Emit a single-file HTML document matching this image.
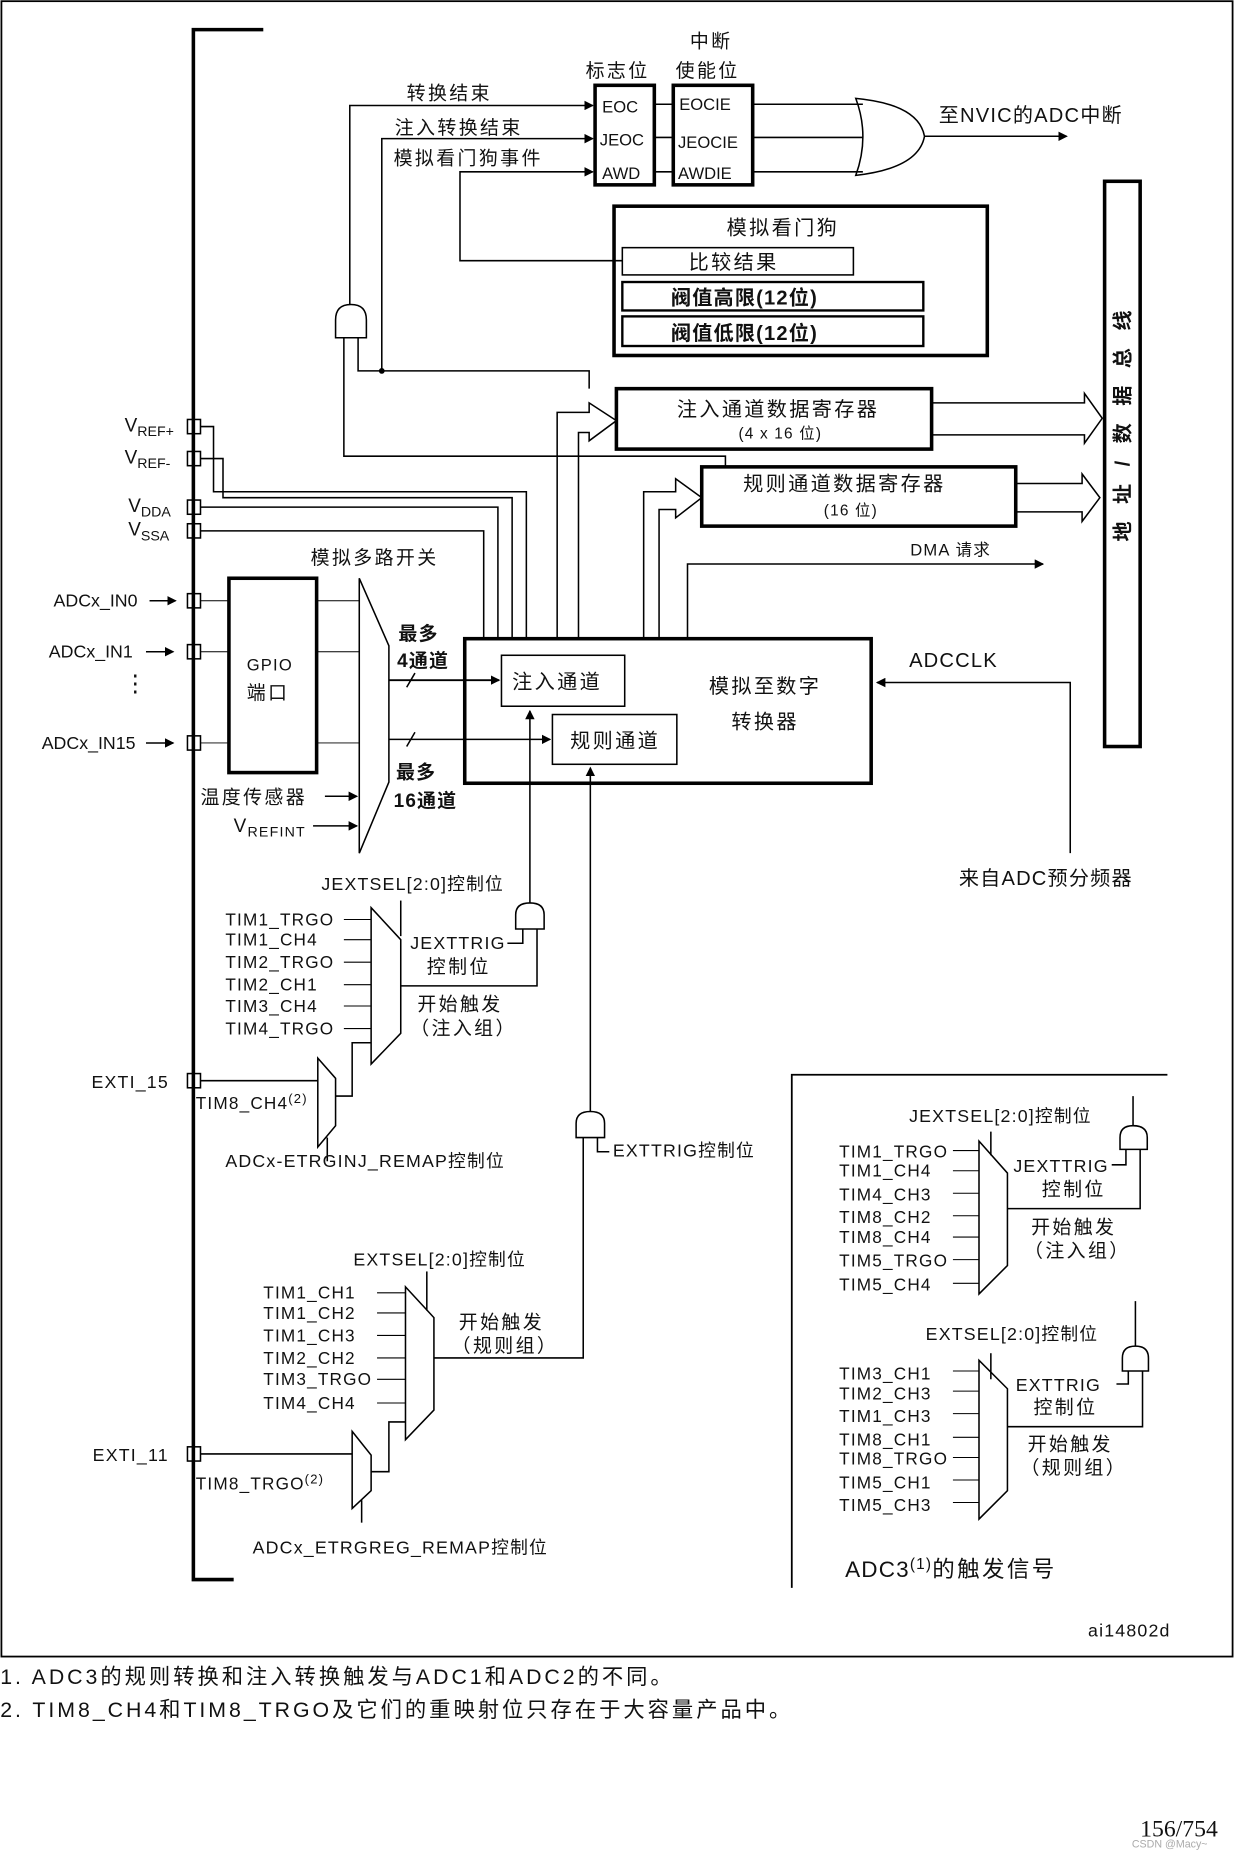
<!DOCTYPE html>
<html><head><meta charset="utf-8"><style>
html,body{margin:0;padding:0;background:#fff;}
svg{display:block}
text{font-family:"Liberation Sans","Noto Sans CJK SC",sans-serif;fill:#111;letter-spacing:1px;}
.c{letter-spacing:2px}
</style></head><body>
<svg width="1234" height="1858" viewBox="0 0 1041 1568" xmlns="http://www.w3.org/2000/svg">
<defs>
<marker id="a" markerWidth="8" markerHeight="8" refX="7" refY="4" orient="auto" markerUnits="userSpaceOnUse"><path d="M0,0 L8,4 L0,8z" fill="#000"/></marker>
</defs>
<g fill="none" stroke="#000" stroke-width="1.3">
<rect x="1" y="1" width="1039" height="1397" stroke-width="1.5"/>
<path d="M222,25 H163 V1333 H197" stroke-width="3"/>
<rect x="502" y="72" width="50" height="84" stroke-width="3"/>
<rect x="568" y="72" width="67" height="84" stroke-width="3"/>
<path d="M552,88 H568 M552,116 H568 M552,145 H568"/>
<path d="M635,88 H728 M635,116 H728 M635,145 H728"/>
<path d="M722,83 Q775,88 780,115 Q775,142 722,148 Q734,115 722,83z"/>
<path d="M780,115 H900" marker-end="url(#a)"/>
<path d="M295,257 V89 H500" marker-end="url(#a)"/>
<path d="M322,313 V117 H500" marker-end="url(#a)"/>
<path d="M525,220 H388 V145 H500" marker-end="url(#a)"/>
<rect x="518" y="174" width="315" height="126" stroke-width="3"/>
<rect x="525" y="209" width="195" height="23"/>
<rect x="525" y="238" width="254" height="24" stroke-width="2"/>
<rect x="525" y="267" width="254" height="25" stroke-width="2"/>
<path d="M283,285 V270 Q283,257 296,257 Q309,257 309,270 V285z"/>
<path d="M290,285 V385 H612 V394"/>
<path d="M302,285 V313 H497 V328"/>
<circle cx="322" cy="313" r="1.8" fill="#000"/>
<rect x="520" y="328" width="266" height="51" stroke-width="3"/>
<path d="M470,540 V348 H497 V340 L520,355 L497,372 V365 H488 V540"/>
<path d="M786,340 H915 V332 L930,353 L915,374 V367 H786"/>
<rect x="592" y="394" width="265" height="50" stroke-width="3"/>
<path d="M543,540 V415 H570 V404 L592,420 L570,437 V430 H556 V540"/>
<path d="M857,408 H913 V400 L928,420 L913,440 V432 H857"/>
<rect x="932" y="153" width="30" height="477" stroke-width="3"/>
<path d="M580,540 V476 H880" marker-end="url(#a)"/>
<rect x="392" y="539" width="343" height="122" stroke-width="3"/>
<rect x="423" y="553" width="104" height="43"/>
<rect x="466" y="603" width="105" height="42"/>
<path d="M903,720 V576 H740" marker-end="url(#a)"/>
<rect x="158" y="354" width="11" height="12"/>
<rect x="158" y="381" width="11" height="12"/>
<rect x="158" y="422" width="11" height="12"/>
<rect x="158" y="442" width="11" height="12"/>
<rect x="158" y="501" width="11" height="12"/>
<rect x="158" y="544" width="11" height="12"/>
<rect x="158" y="621" width="11" height="12"/>
<rect x="158" y="906" width="11" height="12"/>
<rect x="158" y="1221" width="11" height="12"/>
<path d="M169,360 H180 V415 H444 V539"/>
<path d="M169,387 H188 V420 H432 V539"/>
<path d="M169,428 H420 V539"/>
<path d="M169,448 H408 V539"/>
<path d="M126,507 H148" marker-end="url(#a)"/>
<path d="M123,550 H146" marker-end="url(#a)"/>
<path d="M123,627 H146" marker-end="url(#a)"/>
<rect x="193" y="488" width="74" height="164" stroke-width="3"/>
<path d="M169,507 H193 M169,550 H193 M169,627 H193 M267,507 H303 M267,550 H303 M267,627 H303" stroke-width="0.8"/>
<path d="M303,488 L328,545 V660 L303,720z"/>
<path d="M274,672 H301" marker-end="url(#a)"/>
<path d="M264,697 H301" marker-end="url(#a)"/>
<path d="M328,574 H421" marker-end="url(#a)" stroke-width="1.6"/>
<path d="M328,624 H464" marker-end="url(#a)"/>
<path d="M343,580 L350,568 M343,630 L350,618"/>
<path d="M447,762 V600" marker-end="url(#a)"/>
<path d="M498,938 V648" marker-end="url(#a)"/>
<path d="M435,784 V772 Q435,762 447,762 Q459,762 459,772 V784z"/>
<path d="M441,784 V796 H428 M453,784 V832 H338"/>
<path d="M338,760 V790"/>
<path d="M313,766 L338,793 V872 L313,898z"/>
<path d="M290,776 H313 M290,793 H313 M290,812 H313 M290,831 H313 M290,849 H313 M290,868 H313" stroke-width="0.9"/>
<path d="M169,912 H268"/>
<path d="M268,893 L283,910 V950 L268,968z"/>
<path d="M283,925 H297 V880 H313"/>
<path d="M276,960 V980"/>
<path d="M486,960 V948 Q486,938 498,938 Q510,938 510,948 V960z"/>
<path d="M504,960 V972 H514 M492,960 V1146 H366"/>
<path d="M342,1086 L366,1112 V1190 L342,1215z"/>
<path d="M360,1073 V1106"/>
<path d="M318,1091 H342 M318,1108 H342 M318,1127 H342 M318,1146 H342 M318,1164 H342 M318,1184 H342" stroke-width="0.9"/>
<path d="M169,1227 H297"/>
<path d="M297,1208 L313,1228 V1258 L297,1273z"/>
<path d="M313,1242 H328 V1200 H342"/>
<path d="M305,1266 V1285"/>
<path d="M985,907 H668 V1340" stroke-width="1.5"/>
<path d="M826,963 L850,990 V1068 L826,1092z"/>
<path d="M836,955 V975"/>
<path d="M804,971 H826 M804,988 H826 M804,1007 H826 M804,1026 H826 M804,1044 H826 M804,1063 H826 M804,1083 H826" stroke-width="0.9"/>
<path d="M945,970 V960 Q945,950 956,950 Q968,950 968,960 V970z"/>
<path d="M956,950 V925 M950,970 V983 H938 M962,970 V1020 H850"/>
<path d="M826,1148 L850,1172 V1258 L826,1282z"/>
<path d="M836,1142 V1164"/>
<path d="M804,1157 H826 M804,1174 H826 M804,1193 H826 M804,1213 H826 M804,1230 H826 M804,1249 H826 M804,1268 H826" stroke-width="0.9"/>
<path d="M947,1157 V1146 Q947,1136 958,1136 Q969,1136 969,1146 V1157z"/>
<path d="M958,1136 V1098 M952,1157 V1168 H942 M964,1157 V1204 H850"/>
</g>
<g font-size="16">
<text class="c" x="582" y="40">中断</text>
<text class="c" x="494" y="65">标志位</text>
<text class="c" x="570" y="65">使能位</text>
<text class="c" x="343" y="84">转换结束</text>
<text class="c" x="333" y="113">注入转换结束</text>
<text class="c" x="332" y="139">模拟看门狗事件</text>
<text x="508" y="95" font-size="14" style="letter-spacing:0">EOC</text>
<text x="506" y="123" font-size="14" style="letter-spacing:0">JEOC</text>
<text x="508" y="151" font-size="14" style="letter-spacing:0">AWD</text>
<text x="573" y="93" font-size="14" style="letter-spacing:0">EOCIE</text>
<text x="572" y="125" font-size="14" style="letter-spacing:0">JEOCIE</text>
<text x="572" y="151" font-size="14" style="letter-spacing:0">AWDIE</text>
<text x="792" y="103" font-size="17">至NVIC的ADC中断</text>
<text class="c" x="613" y="198" font-size="17">模拟看门狗</text>
<text class="c" x="581" y="227" font-size="17">比较结果</text>
<text x="566" y="257" font-size="17" font-weight="bold">阀值高限(12位)</text>
<text x="566" y="287" font-size="17" font-weight="bold">阀值低限(12位)</text>
<text class="c" x="571" y="351" font-size="17">注入通道数据寄存器</text>
<text x="623" y="370" font-size="13">(4 x 16 位)</text>
<text class="c" x="627" y="414" font-size="17">规则通道数据寄存器</text>
<text x="695" y="435" font-size="13">(16 位)</text>
<text x="768" y="469" font-size="14">DMA 请求</text>
<text transform="translate(953,457) rotate(-90)" font-size="17" font-weight="bold" style="letter-spacing:5px">地 址 / 数 据 总 线</text>
<text x="105" y="364" style="letter-spacing:0">V<tspan font-size="12" dy="4">REF+</tspan></text>
<text x="105" y="391" style="letter-spacing:0">V<tspan font-size="12" dy="4">REF-</tspan></text>
<text x="108" y="432" style="letter-spacing:0">V<tspan font-size="12" dy="4">DDA</tspan></text>
<text x="108" y="452" style="letter-spacing:0">V<tspan font-size="12" dy="4">SSA</tspan></text>
<text class="c" x="262" y="476">模拟多路开关</text>
<text x="45" y="512" font-size="15" style="letter-spacing:0">ADCx_IN0</text>
<text x="41" y="555" font-size="15" style="letter-spacing:0">ADCx_IN1</text>
<text x="35" y="632" font-size="15" style="letter-spacing:0">ADCx_IN15</text>
<text x="104" y="583" font-size="20">⋮</text>
<text x="208" y="566" font-size="14">GPIO</text>
<text class="c" x="208" y="590">端口</text>
<text x="336" y="540" font-weight="bold">最多</text>
<text x="335" y="563" font-weight="bold">4通道</text>
<text x="334" y="657" font-weight="bold">最多</text>
<text x="332" y="681" font-weight="bold">16通道</text>
<text class="c" x="169" y="678">温度传感器</text>
<text x="197" y="702">V<tspan font-size="12" dy="4">REFINT</tspan></text>
<text class="c" x="432" y="581" font-size="17">注入通道</text>
<text class="c" x="481" y="631" font-size="17">规则通道</text>
<text class="c" x="598" y="585" font-size="17">模拟至数字</text>
<text class="c" x="617" y="615" font-size="17">转换器</text>
<text x="767" y="563" font-size="17">ADCCLK</text>
<text x="809" y="747" font-size="17">来自ADC预分频器</text>
<text x="271" y="751" font-size="15">JEXTSEL[2:0]控制位</text>
<g font-size="14.5">
<text x="190" y="781">TIM1_TRGO</text><text x="190" y="798">TIM1_CH4</text><text x="190" y="817">TIM2_TRGO</text><text x="190" y="836">TIM2_CH1</text><text x="190" y="854">TIM3_CH4</text><text x="190" y="873">TIM4_TRGO</text>
</g>
<text x="346" y="801" font-size="15">JEXTTRIG</text>
<text class="c" x="360" y="821">控制位</text>
<text class="c" x="352" y="853">开始触发</text>
<text class="c" x="346" y="873">（注入组）</text>
<text x="77" y="918" font-size="15">EXTI_15</text>
<text x="165" y="936" font-size="14.5">TIM8_CH4<tspan font-size="11" dy="-5">(2)</tspan></text>
<text x="190" y="985" font-size="15">ADCx-ETRGINJ_REMAP控制位</text>
<text x="517" y="976" font-size="15">EXTTRIG控制位</text>
<text x="298" y="1068" font-size="15">EXTSEL[2:0]控制位</text>
<g font-size="14.5">
<text x="222" y="1096">TIM1_CH1</text><text x="222" y="1113">TIM1_CH2</text><text x="222" y="1132">TIM1_CH3</text><text x="222" y="1151">TIM2_CH2</text><text x="222" y="1169">TIM3_TRGO</text><text x="222" y="1189">TIM4_CH4</text>
</g>
<text class="c" x="387" y="1121">开始触发</text>
<text class="c" x="381" y="1141">（规则组）</text>
<text x="78" y="1233" font-size="15">EXTI_11</text>
<text x="165" y="1257" font-size="14.5">TIM8_TRGO<tspan font-size="11" dy="-5">(2)</tspan></text>
<text x="213" y="1311" font-size="15">ADCx_ETRGREG_REMAP控制位</text>
<text x="767" y="947" font-size="15">JEXTSEL[2:0]控制位</text>
<g font-size="14.5">
<text x="708" y="977">TIM1_TRGO</text><text x="708" y="993">TIM1_CH4</text><text x="708" y="1013">TIM4_CH3</text><text x="708" y="1032">TIM8_CH2</text><text x="708" y="1049">TIM8_CH4</text><text x="708" y="1069">TIM5_TRGO</text><text x="708" y="1089">TIM5_CH4</text>
</g>
<text x="855" y="989" font-size="15">JEXTTRIG</text>
<text class="c" x="879" y="1009">控制位</text>
<text class="c" x="870" y="1041">开始触发</text>
<text class="c" x="864" y="1061">（注入组）</text>
<text x="781" y="1131" font-size="15">EXTSEL[2:0]控制位</text>
<g font-size="14.5">
<text x="708" y="1164">TIM3_CH1</text><text x="708" y="1181">TIM2_CH3</text><text x="708" y="1200">TIM1_CH3</text><text x="708" y="1220">TIM8_CH1</text><text x="708" y="1236">TIM8_TRGO</text><text x="708" y="1256">TIM5_CH1</text><text x="708" y="1275">TIM5_CH3</text>
</g>
<text x="857" y="1174" font-size="15">EXTTRIG</text>
<text class="c" x="872" y="1193">控制位</text>
<text class="c" x="867" y="1224">开始触发</text>
<text class="c" x="861" y="1244">（规则组）</text>
<text x="713" y="1331" font-size="19">ADC3<tspan font-size="13" dy="-7">(1)</tspan><tspan dy="7" style="letter-spacing:2px">的触发信号</tspan></text>
<text x="918" y="1381" font-size="15">ai14802d</text>
<text x="0" y="1421" font-size="18" style="letter-spacing:2.5px">1.  ADC3的规则转换和注入转换触发与ADC1和ADC2的不同。</text>
<text x="0" y="1449" font-size="18" style="letter-spacing:2.5px">2.  TIM8_CH4和TIM8_TRGO及它们的重映射位只存在于大容量产品中。</text>
<text x="962" y="1550" font-size="20" style="font-family:'Liberation Serif',serif;letter-spacing:0">156/754</text>
<text x="955" y="1559" font-size="9" style="fill:#aaa;letter-spacing:0">CSDN @Macy~</text>
</g>
</svg>
</body></html>
